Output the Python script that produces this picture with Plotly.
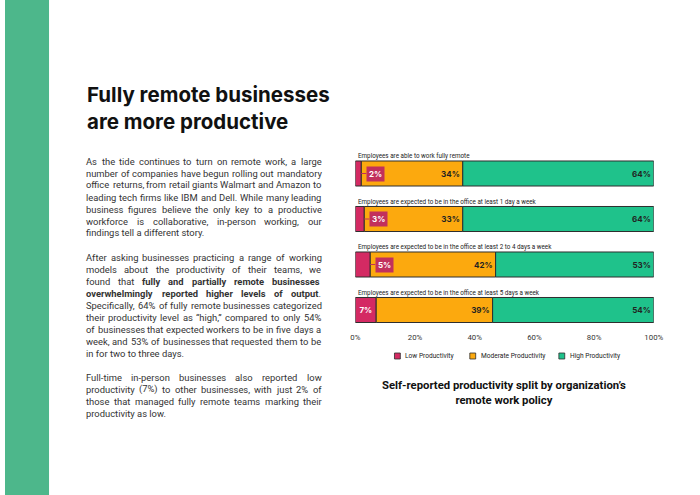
import plotly.graph_objects as go

W, H = 700, 495

categories = [
    "Employees are able to work fully remote",
    "Employees are expected to be in the office at least 1 day a week",
    "Employees are expected to be in the office at least 2 to 4 days a week",
    "Employees are expected to be in the office at least 5 days a week",
]
low = [2, 3, 5, 7]
moderate = [34, 33, 42, 39]
high = [64, 64, 53, 54]
series_names = ["Low Productivity", "Moderate Productivity", "High Productivity"]
tick_vals = [0, 20, 40, 60, 80, 100]
tick_text = ["0%", "20%", "40%", "60%", "80%", "100%"]

C_LOW = "#d42a63"
C_MOD = "#fca90e"
C_HIGH = "#1fc28b"
C_BOX = "#c2305c"
OUTLINE = "#2e2e2e"

title_lines = ["Fully remote businesses", "are more productive"]
paragraphs = [
    ["As the tide continues to turn on remote work, a large",
     "number of companies have begun rolling out mandatory",
     "office returns, from retail giants Walmart and Amazon to",
     "leading tech firms like IBM and Dell. While many leading",
     "business figures believe the only key to a productive",
     "workforce is collaborative, in-person working, our",
     "findings tell a different story."],
    ["After asking businesses practicing a range of working",
     "models about the productivity of their teams, we",
     "found that <b>fully and partially remote businesses</b>",
     "<b>overwhelmingly reported higher levels of output</b>.",
     "Specifically, 64% of fully remote businesses categorized",
     "their productivity level as \u201chigh,\u201d compared to only 54%",
     "of businesses that expected workers to be in five days a",
     "week, and 53% of businesses that requested them to be",
     "in for two to three days."],
    ["Full-time in-person businesses also reported low",
     "productivity (7%) to other businesses, with just 2% of",
     "those that managed fully remote teams marking their",
     "productivity as low."],
]
caption = "Self-reported productivity split by organization\u2019s<br>remote work policy"


def px(x):
    return x / W


def py(y):
    return 1 - y / H


# rough Roboto advance widths (units per 2048 em), used to justify the body text
ROBOTO = {
    " ": 507, ",": 393, ".": 527, "-": 552, "%": 1465, "(": 683, ")": 695,
    "\u201c": 620, "\u201d": 620, "'": 349,
    "0": 1150, "1": 1150, "2": 1150, "3": 1150, "4": 1150, "5": 1150,
    "6": 1150, "7": 1150, "8": 1150, "9": 1150,
    "A": 1336, "B": 1275, "C": 1333, "D": 1343, "E": 1164, "F": 1132, "I": 557,
    "M": 1788, "S": 1217, "W": 1817,
    "a": 1088, "b": 1120, "c": 1045, "d": 1126, "e": 1058, "f": 693, "g": 1120,
    "h": 1100, "i": 485, "j": 477, "k": 1012, "l": 485, "m": 1751, "n": 1103,
    "o": 1139, "p": 1120, "q": 1126, "r": 677, "s": 1031, "t": 653, "u": 1100,
    "v": 969, "w": 1502, "x": 991, "y": 946, "z": 991,
}


def text_w(s, size, bold=False):
    w = sum(ROBOTO.get(c, 1100) for c in s) / 2048 * size * 1.03
    return w * (1.05 if bold else 1.0)


ypos = [3, 2, 1, 0]  # top to bottom
base_mod = low
base_high = [a + b for a, b in zip(low, moderate)]

fig = go.Figure()

fig.add_trace(go.Bar(
    y=ypos, x=low, orientation="h", name=series_names[0], width=0.55,
    marker=dict(color=C_LOW, line=dict(color=OUTLINE, width=1)),
    text=[f"{v}%" if v >= 6 else "" for v in low],
    textposition="inside", insidetextanchor="middle",
    textfont=dict(family="Inter", size=8, color="white", weight="bold"),
    hoverinfo="skip",
))
fig.add_trace(go.Bar(
    y=ypos, x=moderate, base=base_mod, orientation="h", name=series_names[1], width=0.55,
    marker=dict(color=C_MOD, line=dict(color=OUTLINE, width=1)),
    text=[f"{v}%" for v in moderate],
    textposition="inside", insidetextanchor="end",
    textfont=dict(family="Inter", size=8, color="#222222", weight="bold"),
    hoverinfo="skip",
))
fig.add_trace(go.Bar(
    y=ypos, x=high, base=base_high, orientation="h", name=series_names[2], width=0.55,
    marker=dict(color=C_HIGH, line=dict(color=OUTLINE, width=1)),
    text=[f"{v}%" for v in high],
    textposition="inside", insidetextanchor="end",
    textfont=dict(family="Inter", size=8, color="#222222", weight="bold"),
    hoverinfo="skip",
))

annotations = []

# category labels above each bar
for cat, y in zip(categories, ypos):
    annotations.append(dict(
        x=0, y=y, xref="x", yref="y", text=cat, showarrow=False,
        xanchor="left", yanchor="middle", yshift=17.5, xshift=1,
        font=dict(family="Roboto", size=6.3, color="#222222"),
    ))

# call-out boxes for small low values
for v, y in zip(low, ypos):
    if v < 6:
        annotations.append(dict(
            x=v, y=y, xref="x", yref="y", text=f"<b>{v}%</b>",
            showarrow=True, ax=14, ay=0, axref="pixel", ayref="pixel",
            arrowhead=0, arrowwidth=1, arrowcolor=C_BOX, standoff=0,
            bgcolor=C_BOX, borderpad=2, xanchor="center",
            font=dict(family="Inter", size=8, color="white"),
        ))

# title
for i, t in enumerate(title_lines):
    annotations.append(dict(
        x=px(82), y=py(94 + 27 * i), xref="paper", yref="paper", text=f"<b>{t}</b>",
        showarrow=False, xanchor="left", yanchor="middle",
        font=dict(family="Inter", size=20.5, color="#111111"),
    ))

# body text, justified word by word between x=82 and x=322
BODY = dict(family="Roboto", size=9.4, color="#333333")
LEFT, RIGHT = 82, 322
MIN_GAP = 2.4
y0 = 161
for para in paragraphs:
    for li, line in enumerate(para):
        last = li == len(para) - 1
        if last:
            annotations.append(dict(
                x=px(LEFT), y=py(y0), xref="paper", yref="paper", text=line,
                showarrow=False, xanchor="left", yanchor="middle", borderpad=0,
                font=BODY,
            ))
        else:
            words, widths = [], []
            bold = False
            for raw in line.split(" "):
                plain = raw.replace("<b>", "").replace("</b>", "")
                b_start = bold or raw.startswith("<b>")
                if "</b>" in raw:
                    bold_after = False
                elif "<b>" in raw:
                    bold_after = True
                else:
                    bold_after = bold
                html = raw
                if bold and not raw.startswith("<b>"):
                    html = "<b>" + html
                if bold_after and not raw.endswith("</b>"):
                    html = html + "</b>"
                bold = bold_after
                words.append(html)
                widths.append(text_w(plain, BODY["size"], b_start))
            gap = (RIGHT - LEFT - sum(widths)) / max(len(words) - 1, 1)
            gap = max(gap, MIN_GAP)
            xcur = LEFT
            for wd, wv in zip(words, widths):
                annotations.append(dict(
                    x=px(xcur), y=py(y0), xref="paper", yref="paper", text=wd,
                    showarrow=False, xanchor="left", yanchor="middle",
                    borderpad=0, font=BODY,
                ))
                xcur += wv + gap
        y0 += 12
    y0 += 12

# custom legend
legend_x = [401, 478, 569]
for name, col, lx in zip(series_names, [C_LOW, C_MOD, C_HIGH], legend_x):
    annotations.append(dict(
        x=px(lx + 6), y=py(356), xref="paper", yref="paper", text=name,
        showarrow=False, xanchor="left", yanchor="middle",
        font=dict(family="Roboto", size=6.6, color="#222222"),
    ))

annotations.append(dict(
    x=px(510), y=py(393), xref="paper", yref="paper", text=f"<b>{caption}</b>",
    showarrow=False, xanchor="center", yanchor="middle",
    font=dict(family="Roboto", size=11.3, color="#111111"),
))

shapes = [
    dict(type="rect", xref="paper", yref="paper", x0=0, x1=px(45), y0=0, y1=1,
         fillcolor="#4db78b", line=dict(width=0), layer="below"),
]
for col, lx in zip([C_LOW, C_MOD, C_HIGH], legend_x):
    shapes.append(dict(
        type="rect", xref="paper", yref="paper",
        x0=px(lx - 3), x1=px(lx + 3), y0=py(359), y1=py(353),
        fillcolor=col, line=dict(color=OUTLINE, width=0.8),
    ))

fig.update_layout(
    width=W, height=H,
    margin=dict(l=0, r=0, t=0, b=0),
    paper_bgcolor="white", plot_bgcolor="white",
    barmode="overlay", showlegend=False,
    xaxis=dict(domain=[px(358), px(663)], range=[0, 100], tickvals=tick_vals,
               ticktext=tick_text, showgrid=False, zeroline=False, showline=False,
               ticks="", ticklabelstandoff=3,
               tickfont=dict(family="Roboto", size=7.8, color="#333333"),
               fixedrange=True),
    yaxis=dict(domain=[py(328.2), py(150.75)], range=[-0.4, 3.5], showticklabels=False,
               showgrid=False, zeroline=False, fixedrange=True),
    annotations=annotations, shapes=shapes,
)

fig.write_html(
    "out.html",
    config={"displayModeBar": False},
    post_script=(
        "document.documentElement.style.background='white';"
        "document.body.style.margin='0';document.body.style.overflow='hidden';"
    ),
)
